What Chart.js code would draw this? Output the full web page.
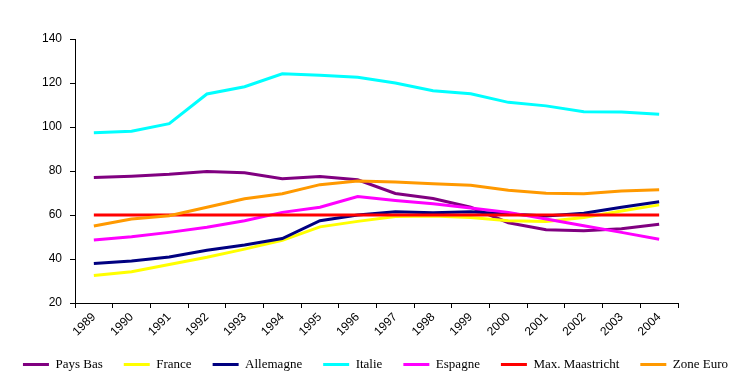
<!DOCTYPE html>
<html>
<head>
<meta charset="utf-8">
<script src="https://cdn.jsdelivr.net/npm/chart.js@4/dist/chart.umd.min.js"></script>
<style>
html,body{margin:0;padding:0;background:#fff;}
#wrap{width:751px;height:389px;}
</style>
</head>
<body>
<div id="wrap"><canvas id="c" width="751" height="389"></canvas></div>
<script>
const years = ['1989','1990','1991','1992','1993','1994','1995','1996','1997','1998','1999','2000','2001','2002','2003','2004'];
const paysBas   = [77.0,77.6,78.5,79.8,79.2,76.5,77.5,76.0,69.8,67.5,63.5,56.5,53.3,52.8,53.8,55.8];
const france    = [32.5,34.2,37.5,40.8,44.5,48.5,54.6,57.1,59.3,59.6,58.9,57.4,57.1,58.9,61.8,64.6];
const allemagne = [38.0,39.1,40.9,44.0,46.4,49.3,57.4,60.0,61.5,61.0,61.5,60.5,59.5,60.8,63.5,66.0];
const italie    = [97.4,98.1,101.5,115.0,118.3,124.2,123.5,122.6,120.0,116.5,115.1,111.2,109.6,106.9,106.8,105.8];
const espagne   = [48.6,50.1,52.1,54.4,57.4,61.2,63.5,68.4,66.6,65.1,63.2,61.2,58.2,55.1,52.1,49.0];
const maastricht= [60,60,60,60,60,60,60,60,60,60,60,60,60,60,60,60];
const zoneEuro  = [55.0,58.2,59.7,63.5,67.4,69.7,73.8,75.4,75.0,74.2,73.5,71.2,69.9,69.7,70.9,71.5];
const yTicks = [20,40,60,80,100,120,140];

const seriesNames = ['Pays Bas','France','Allemagne','Italie','Espagne','Max. Maastricht','Zone Euro'];
const seriesData = [paysBas,france,allemagne,italie,espagne,maastricht,zoneEuro];
const seriesColors = ['#800080','#FFFF00','#000080','#00FFFF','#FF00FF','#FF0000','#FF9900'];

const datasets = seriesNames.map((name,i)=>({
  label:name,
  data:seriesData[i],
  borderColor:seriesColors[i],
  backgroundColor:seriesColors[i],
  borderWidth:3,
  pointRadius:0,
  pointHoverRadius:0,
  pointStyle:'line',
  tension:0,
  fill:false,
  order:seriesNames.length - i
}));

new Chart(document.getElementById('c'),{
  type:'line',
  data:{labels:years,datasets:datasets},
  options:{
    responsive:false,
    animation:false,
    devicePixelRatio:1,
    layout:{padding:{top:39,left:0,right:0,bottom:8}},
    plugins:{
      tooltip:{enabled:false},
      legend:{
        position:'bottom',
        labels:{
          sort:(a,b)=>a.datasetIndex-b.datasetIndex,
          usePointStyle:true,
          pointStyle:'line',
          pointStyleWidth:26,
          padding:21,
          color:'#000',
          font:{family:"'Times New Roman','Liberation Serif',serif",size:13}
        }
      }
    },
    scales:{
      x:{
        type:'category',
        offset:true,
        grid:{offset:true,drawOnChartArea:false,drawTicks:true,tickLength:5,color:'#000'},
        border:{display:true,color:'#000',width:1},
        ticks:{minRotation:45,maxRotation:45,autoSkip:false,padding:2,color:'#000',
               font:{family:"Arial,'Liberation Sans',sans-serif",size:12}},
        afterFit:(s)=>{s.height=34;}
      },
      y:{
        min:20,max:140,
        afterBuildTicks:(s)=>{s.ticks=yTicks.map(v=>({value:v}));},
        grid:{drawOnChartArea:false,drawTicks:true,tickLength:5,color:'#000'},
        border:{display:true,color:'#000',width:1},
        ticks:{padding:8,color:'#000',font:{family:"Arial,'Liberation Sans',sans-serif",size:12}},
        afterFit:(s)=>{s.width=75;}
      },
      yr:{
        position:'right',
        display:true,
        min:0,max:1,
        grid:{display:false,drawTicks:false},
        border:{display:false},
        ticks:{display:false},
        afterFit:(s)=>{s.width=73;}
      }
    }
  }
});
</script>
</body>
</html>
